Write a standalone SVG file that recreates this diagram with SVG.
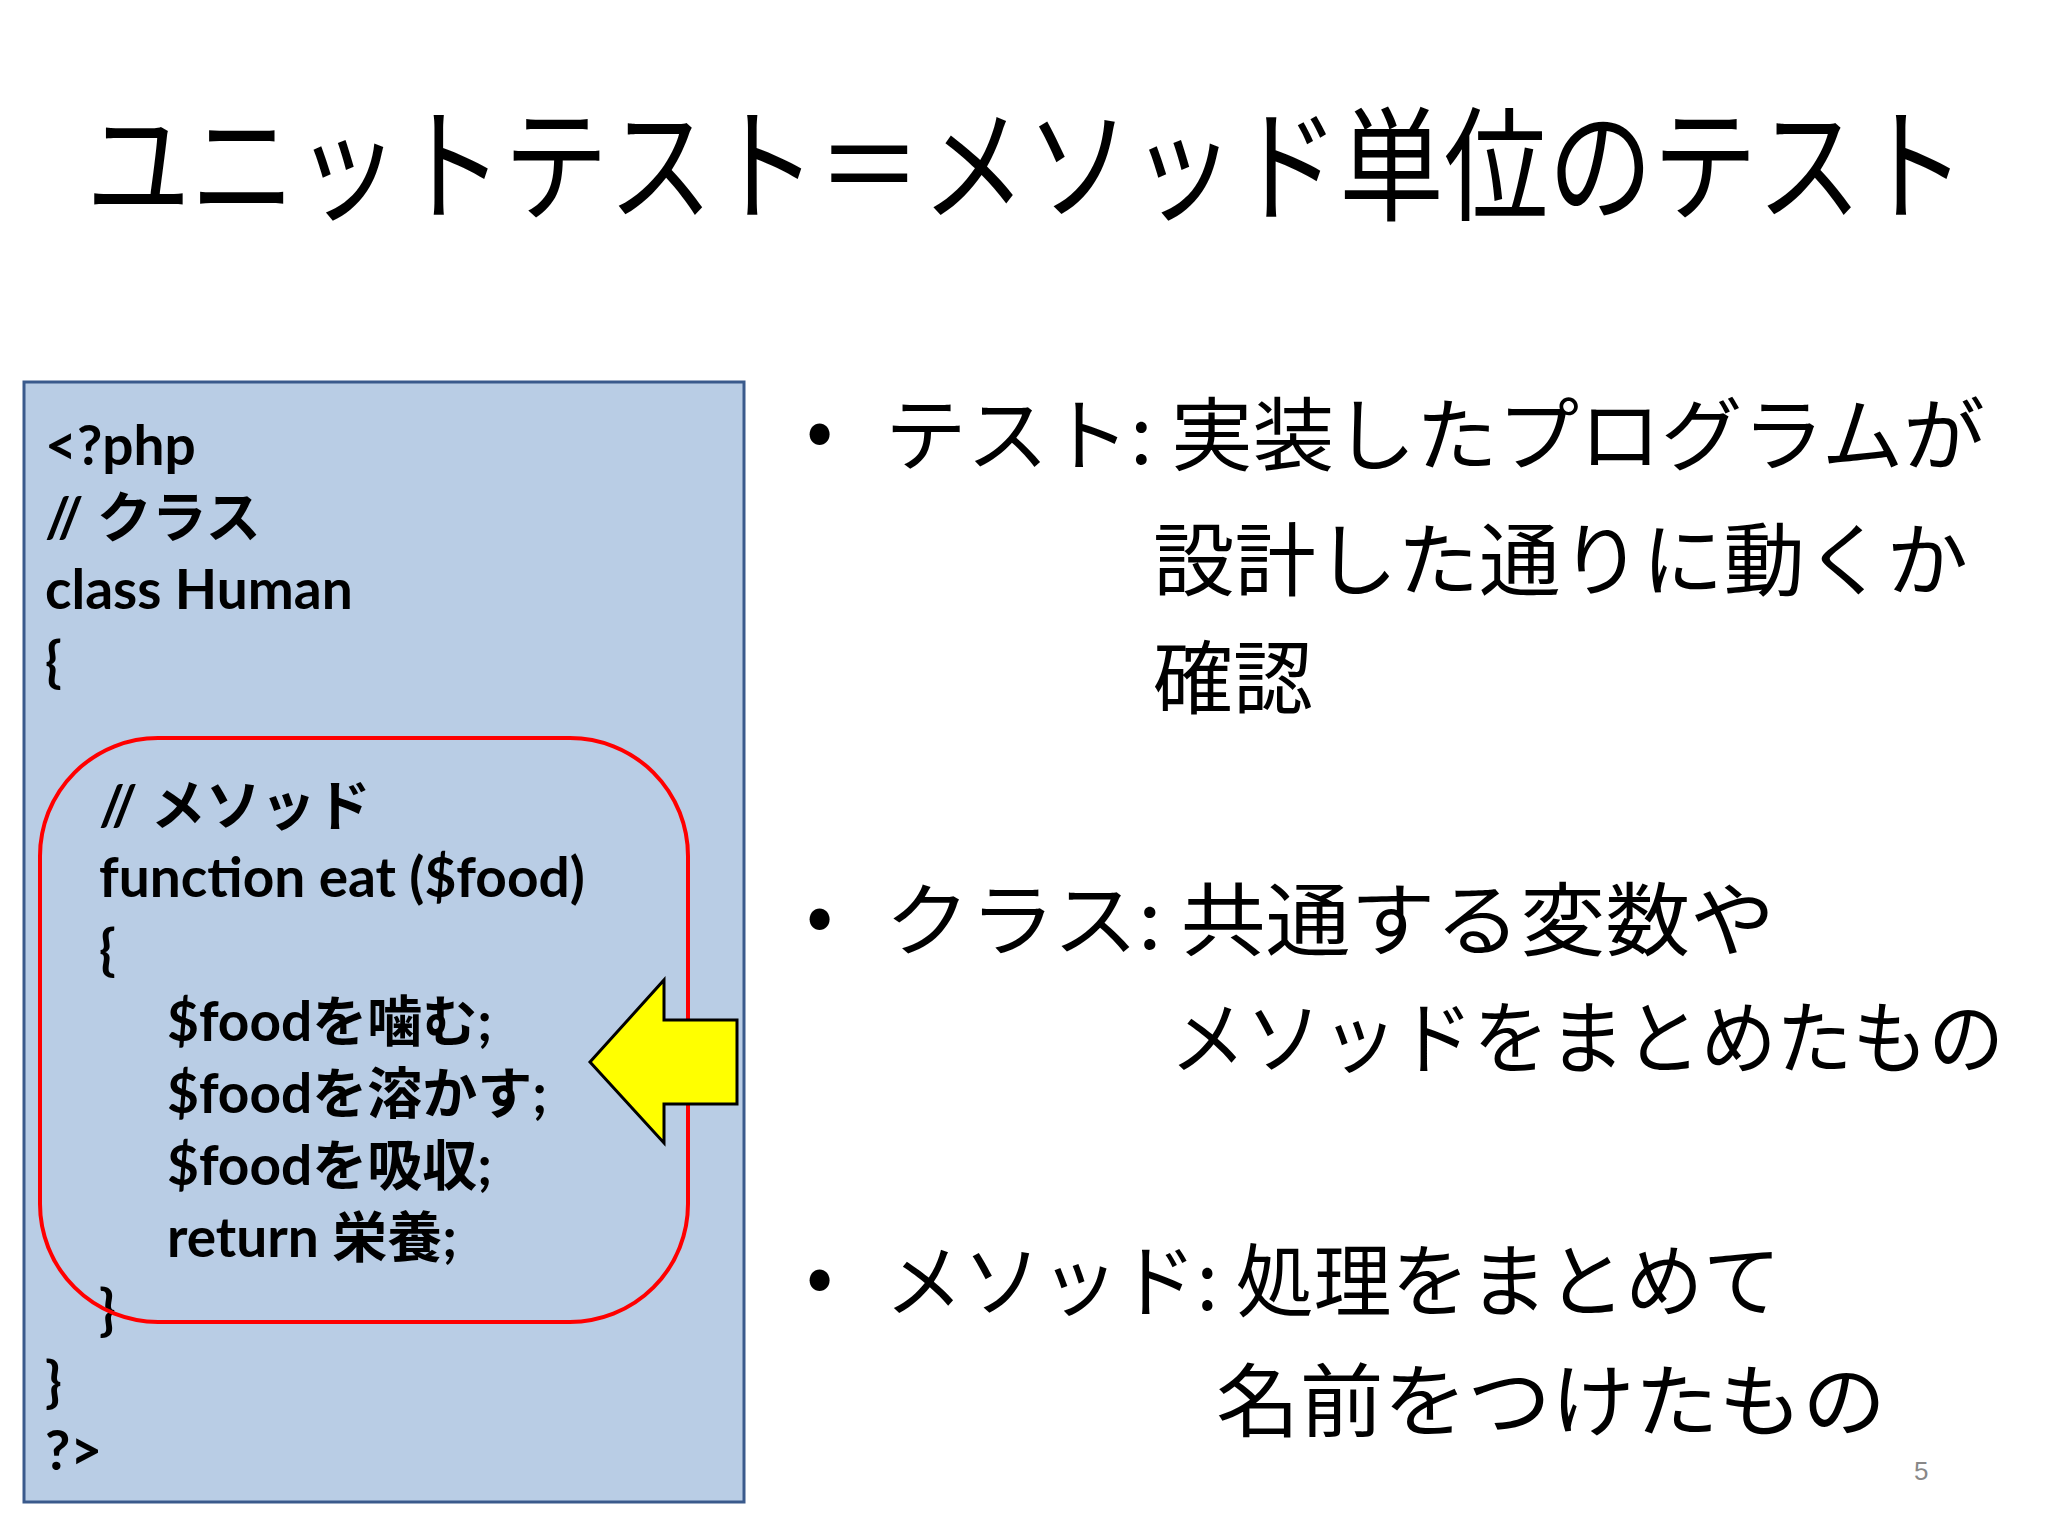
<svg xmlns="http://www.w3.org/2000/svg" width="2048" height="1536" viewBox="0 0 2048 1536">
<style>
.t{font-family:"Noto Sans CJK JP","Noto Sans",sans-serif;fill:#000}
.c{font-family:"Lato","Noto Sans CJK JP",sans-serif;font-weight:bold;font-size:55px;fill:#000}
.b{font-family:"Noto Sans CJK JP","Noto Sans",sans-serif;font-size:80px;fill:#000}
</style>
<rect width="2048" height="1536" fill="#fff"/>
<text class="t" x="86" y="211" font-size="124" textLength="1880" lengthAdjust="spacingAndGlyphs">ユニットテスト＝メソッド単位のテスト</text>
<g id="codebox">
<rect x="24" y="382" width="720" height="1120" fill="#b9cde5" stroke="#3a5a8c" stroke-width="3"/>
<text class="c" x="45" y="465">&lt;?php</text>
<text class="c" x="45" y="537">// クラス</text>
<text class="c" x="45" y="609">class Human</text>
<text class="c" x="45" y="681">{</text>
<text class="c" x="99" y="825">// メソッド</text>
<text class="c" x="99" y="897">function eat ($food)</text>
<text class="c" x="99" y="969">{</text>
<text class="c" x="167" y="1041">$foodを噛む;</text>
<text class="c" x="167" y="1113">$foodを溶かす;</text>
<text class="c" x="167" y="1185">$foodを吸収;</text>
<text class="c" x="167" y="1257">return 栄養;</text>
<text class="c" x="99" y="1329">}</text>
<text class="c" x="45" y="1401">}</text>
<text class="c" x="45" y="1470">?&gt;</text>
</g>
<g id="method">
<rect x="40" y="738" width="648" height="584" rx="118" fill="none" stroke="#ff0000" stroke-width="4"/>
</g>
<g id="arrow">
<polygon points="590,1062 664,980 664,1020 737,1020 737,1104 664,1104 664,1143" fill="#ffff00" stroke="#000" stroke-width="3"/>
</g>
<g id="bullets">
<text class="b" x="806" y="458">•</text>
<text class="b" x="885" y="464" textLength="1100" lengthAdjust="spacingAndGlyphs">テスト: 実装したプログラムが</text>
<text class="b" x="1153" y="589" textLength="815" lengthAdjust="spacingAndGlyphs">設計した通りに動くか</text>
<text class="b" x="1153" y="707">確認</text>
<text class="b" x="806" y="943">•</text>
<text class="b" x="885" y="949" textLength="890" lengthAdjust="spacingAndGlyphs">クラス: 共通する変数や</text>
<text class="b" x="1170" y="1067" textLength="834" lengthAdjust="spacingAndGlyphs">メソッドをまとめたもの</text>
<text class="b" x="806" y="1304">•</text>
<text class="b" x="885" y="1310" textLength="896" lengthAdjust="spacingAndGlyphs">メソッド: 処理をまとめて</text>
<text class="b" x="1216" y="1430" textLength="670" lengthAdjust="spacingAndGlyphs">名前をつけたもの</text>
</g>
<text x="1914" y="1480" font-family="Liberation Sans,sans-serif" font-size="26" fill="#888">5</text>
</svg>
